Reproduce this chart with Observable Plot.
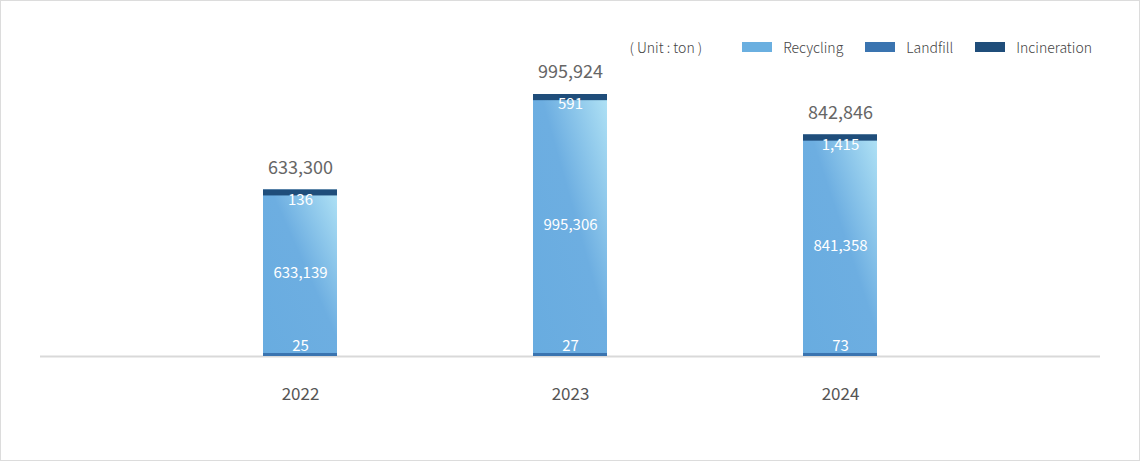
<!DOCTYPE html>
<html>
<head>
<meta charset="utf-8">
<script src="https://cdn.jsdelivr.net/npm/d3@7"></script>
<script src="https://cdn.jsdelivr.net/npm/@observablehq/plot@0.6"></script>
<style>
  html, body { margin: 0; padding: 0; background: #fff; }
  #wrap {
    position: relative; width: 1140px; height: 461px; box-sizing: border-box;
    border: 1px solid #dcdcdc; background: #fff; overflow: hidden;
    font-family: "Noto Sans CJK KR", "Noto Sans", sans-serif;
  }
  #legend {
    position: absolute; top: 36px; right: 47px; height: 20px;
    display: flex; align-items: center;
    font-size: 14px; color: #444; line-height: 20px; font-weight: 300;
  }
  #legend .unit { margin-right: 18px; }
  #legend .item { display: flex; align-items: center; margin-left: 22px; }
  #legend .item:first-of-type { margin-left: 0; }
  #legend .sw { width: 30px; height: 10px; margin-right: 11px; }
  #chart svg { display: block; }
</style>
</head>
<body>
<div id="wrap">
  <div id="chart"></div>
  <div id="legend"></div>
</div>
<script>
const years = ["2022", "2023", "2024"];
const recycling = [633139, 995306, 841358];
const landfill = [25, 27, 73];
const incineration = [136, 591, 1415];
const totals = [633300, 995924, 842846];

const seriesNames = ["Recycling", "Landfill", "Incineration"];
const seriesColors = ["#6aafe0", "#3a74b0", "#1f4d7a"];
const unitLabel = "( Unit : ton )";

// legend
const legend = d3.select("#legend");
legend.append("span").attr("class", "unit").text(unitLabel);
seriesNames.forEach((n, i) => {
  const it = legend.append("span").attr("class", "item");
  it.append("span").attr("class", "sw").style("background", seriesColors[i]);
  it.append("span").text(n);
});

const rows = years.map((year, i) => ({
  year,
  recycling: recycling[i],
  landfill: landfill[i],
  incineration: incineration[i],
  total: totals[i]
}));

const fmt = d3.format(",");

const chart = Plot.plot({
  width: 1138,
  height: 459,
  marginTop: 93,
  marginBottom: 104,
  marginLeft: 39,
  marginRight: 39,
  style: { fontFamily: '"Noto Sans CJK KR", "Noto Sans", sans-serif', background: "transparent" },
  x: { domain: years, padding: 0.727, insetLeft: 25, insetRight: 25, label: null },
  y: { domain: [0, d3.max(totals)], axis: null },
  marks: [
    Plot.ruleY([0], { stroke: "#d9d9d9", strokeWidth: 2 }),
    Plot.barY(rows, {
      x: "year",
      y1: "landfill",
      y2: d => d.landfill + d.recycling,
      fill: "url(#recGrad)"
    }),
    Plot.barY(rows, {
      x: "year", y1: 0, y2: "landfill",
      fill: seriesColors[1], insetTop: -3
    }),
    Plot.barY(rows, {
      x: "year",
      y1: d => d.landfill + d.recycling,
      y2: "total",
      fill: seriesColors[2], insetBottom: -6
    }),
    Plot.text(rows, {
      x: "year", y: "total", text: d => fmt(d.total),
      dy: -22, fontSize: 18, fill: "#666", letterSpacing: "-1px"
    }),
    Plot.text(rows, {
      x: "year", y: d => d.landfill + d.recycling / 2, text: d => fmt(d.recycling),
      fontSize: 15, fill: "#fff"
    }),
    Plot.text(rows, {
      x: "year", y: "total", text: d => fmt(d.incineration),
      dy: 10, fontSize: 15, fill: "#fff"
    }),
    Plot.text(rows, {
      x: "year", y: 0, text: d => fmt(d.landfill),
      dy: -10, fontSize: 15, fill: "#fff"
    }),
    Plot.axisX({ tickSize: 0, tickPadding: 31, fontSize: 17, fill: "#555", label: null })
  ]
});

// gradient + soft shadow definitions
const svg = d3.select(chart);
const defs = svg.insert("defs", ":first-child");
const grad = defs.append("linearGradient").attr("id", "recGrad")
  .attr("x1", "100%").attr("y1", "0%").attr("x2", "0%").attr("y2", "100%");
grad.append("stop").attr("offset", "0%").attr("stop-color", "#b0e2f5");
grad.append("stop").attr("offset", "45%").attr("stop-color", "#6daee1");
grad.append("stop").attr("offset", "100%").attr("stop-color", "#68ace0");
const f = defs.append("filter").attr("id", "barShadow")
  .attr("x", "-20%").attr("y", "-10%").attr("width", "160%").attr("height", "130%");
f.append("feDropShadow").attr("dx", 7).attr("dy", 4).attr("stdDeviation", 3)
  .attr("flood-color", "#000").attr("flood-opacity", 0.12);
svg.selectAll("rect").filter(function () { return this.getAttribute("fill") === "url(#recGrad)"; })
  .attr("filter", "url(#barShadow)");

document.getElementById("chart").appendChild(chart);
</script>
</body>
</html>
